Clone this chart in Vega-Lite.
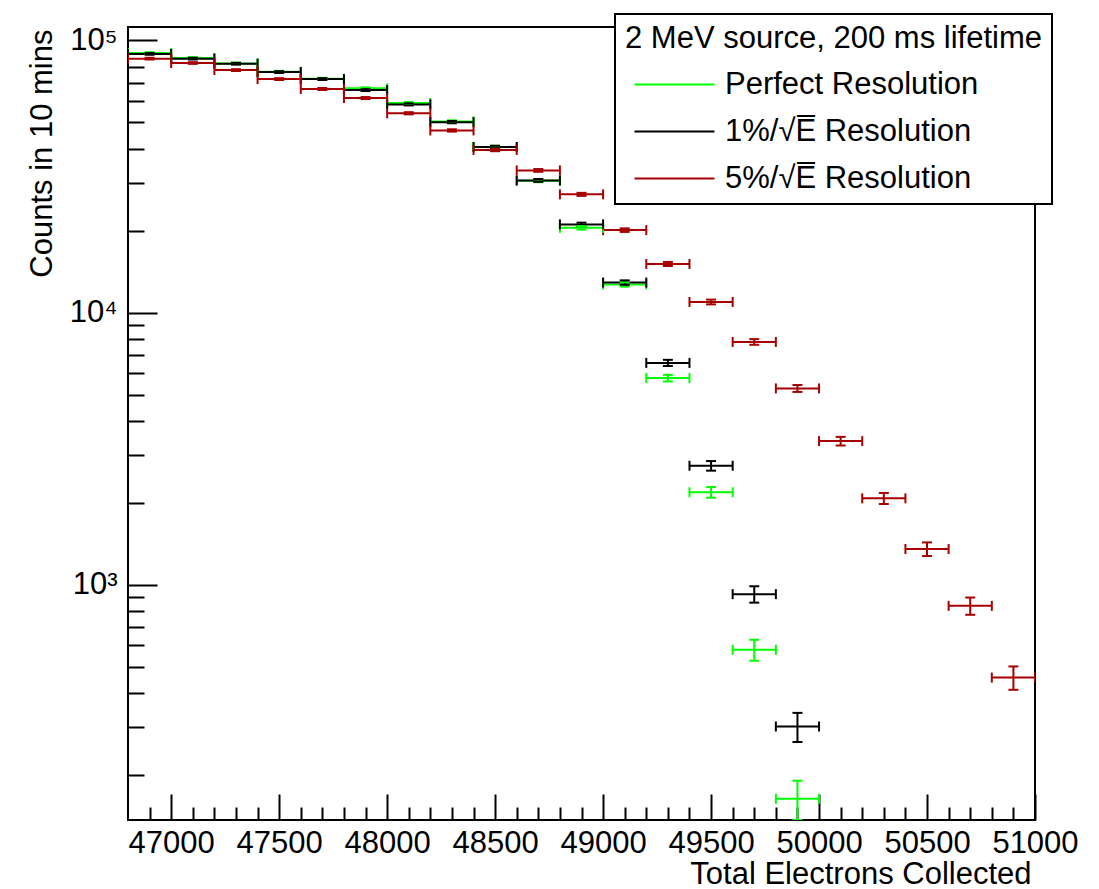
{
  "$schema": "https://vega.github.io/schema/vega-lite/v6.json",
  "width": 907,
  "height": 793,
  "autosize": {"type": "none"},
  "padding": {"left": 128, "top": 27, "right": 64, "bottom": 69},
  "config": {
    "font": "Liberation Sans",
    "view": {"stroke": "#000", "strokeWidth": 2},
    "axis": {"domain": false, "grid": false, "tickColor": "#000", "tickWidth": 2, "labelColor": "#000", "labelFontSize": 31, "titleFontSize": 31, "titleFontWeight": "normal", "titleColor": "#000"}
  },
  "data": {"values": [
    {"s":"P","x0":46800,"x1":47000,"x":46900,"n":89800,"lo":89165,"hi":90435},
    {"s":"P","x0":47000,"x1":47200,"x":47100,"n":86200,"lo":85578,"hi":86822},
    {"s":"P","x0":47200,"x1":47400,"x":47300,"n":82300,"lo":81692,"hi":82908},
    {"s":"P","x0":47400,"x1":47600,"x":47500,"n":76700,"lo":76113,"hi":77287},
    {"s":"P","x0":47600,"x1":47800,"x":47700,"n":72300,"lo":71730,"hi":72870},
    {"s":"P","x0":47800,"x1":48000,"x":47900,"n":66700,"lo":66152,"hi":67248},
    {"s":"P","x0":48000,"x1":48200,"x":48100,"n":58900,"lo":58385,"hi":59415},
    {"s":"P","x0":48200,"x1":48400,"x":48300,"n":50400,"lo":49924,"hi":50876},
    {"s":"P","x0":48400,"x1":48600,"x":48500,"n":40600,"lo":40173,"hi":41027},
    {"s":"P","x0":48600,"x1":48800,"x":48700,"n":30500,"lo":30130,"hi":30870},
    {"s":"P","x0":48800,"x1":49000,"x":48900,"n":20500,"lo":20196,"hi":20804},
    {"s":"P","x0":49000,"x1":49200,"x":49100,"n":12700,"lo":12461,"hi":12939},
    {"s":"P","x0":49200,"x1":49400,"x":49300,"n":5750,"lo":5589,"hi":5911},
    {"s":"P","x0":49400,"x1":49600,"x":49500,"n":2190,"lo":2091,"hi":2289},
    {"s":"P","x0":49600,"x1":49800,"x":49700,"n":578,"lo":527,"hi":629},
    {"s":"P","x0":49800,"x1":50000,"x":49900,"n":164,"lo":137,"hi":191},
    {"s":"B","x0":46800,"x1":47000,"x":46900,"n":89200,"lo":88567,"hi":89833},
    {"s":"B","x0":47000,"x1":47200,"x":47100,"n":85700,"lo":85079,"hi":86321},
    {"s":"B","x0":47200,"x1":47400,"x":47300,"n":82100,"lo":81493,"hi":82707},
    {"s":"B","x0":47400,"x1":47600,"x":47500,"n":76500,"lo":75914,"hi":77086},
    {"s":"B","x0":47600,"x1":47800,"x":47700,"n":72100,"lo":71531,"hi":72669},
    {"s":"B","x0":47800,"x1":48000,"x":47900,"n":65700,"lo":65157,"hi":66243},
    {"s":"B","x0":48000,"x1":48200,"x":48100,"n":58200,"lo":57689,"hi":58711},
    {"s":"B","x0":48200,"x1":48400,"x":48300,"n":50100,"lo":49625,"hi":50575},
    {"s":"B","x0":48400,"x1":48600,"x":48500,"n":40600,"lo":40173,"hi":41027},
    {"s":"B","x0":48600,"x1":48800,"x":48700,"n":30600,"lo":30229,"hi":30971},
    {"s":"B","x0":48800,"x1":49000,"x":48900,"n":21100,"lo":20792,"hi":21408},
    {"s":"B","x0":49000,"x1":49200,"x":49100,"n":12900,"lo":12659,"hi":13141},
    {"s":"B","x0":49200,"x1":49400,"x":49300,"n":6540,"lo":6369,"hi":6711},
    {"s":"B","x0":49400,"x1":49600,"x":49500,"n":2740,"lo":2629,"hi":2851},
    {"s":"B","x0":49600,"x1":49800,"x":49700,"n":925,"lo":861,"hi":989},
    {"s":"B","x0":49800,"x1":50000,"x":49900,"n":302,"lo":265,"hi":339},
    {"s":"R","x0":46800,"x1":47000,"x":46900,"n":85700,"lo":85079,"hi":86321},
    {"s":"R","x0":47000,"x1":47200,"x":47100,"n":82600,"lo":81991,"hi":83209},
    {"s":"R","x0":47200,"x1":47400,"x":47300,"n":77800,"lo":77209,"hi":78391},
    {"s":"R","x0":47400,"x1":47600,"x":47500,"n":72100,"lo":71531,"hi":72669},
    {"s":"R","x0":47600,"x1":47800,"x":47700,"n":66300,"lo":65754,"hi":66846},
    {"s":"R","x0":47800,"x1":48000,"x":47900,"n":61400,"lo":60875,"hi":61925},
    {"s":"R","x0":48000,"x1":48200,"x":48100,"n":54000,"lo":53507,"hi":54493},
    {"s":"R","x0":48200,"x1":48400,"x":48300,"n":46700,"lo":46242,"hi":47158},
    {"s":"R","x0":48400,"x1":48600,"x":48500,"n":39600,"lo":39178,"hi":40022},
    {"s":"R","x0":48600,"x1":48800,"x":48700,"n":33300,"lo":32913,"hi":33687},
    {"s":"R","x0":48800,"x1":49000,"x":48900,"n":27200,"lo":26850,"hi":27550},
    {"s":"R","x0":49000,"x1":49200,"x":49100,"n":20100,"lo":19799,"hi":20401},
    {"s":"R","x0":49200,"x1":49400,"x":49300,"n":15100,"lo":14839,"hi":15361},
    {"s":"R","x0":49400,"x1":49600,"x":49500,"n":10950,"lo":10728,"hi":11172},
    {"s":"R","x0":49600,"x1":49800,"x":49700,"n":7810,"lo":7623,"hi":7997},
    {"s":"R","x0":49800,"x1":50000,"x":49900,"n":5270,"lo":5116,"hi":5424},
    {"s":"R","x0":50000,"x1":50200,"x":50100,"n":3375,"lo":3252,"hi":3498},
    {"s":"R","x0":50200,"x1":50400,"x":50300,"n":2080,"lo":1983,"hi":2177},
    {"s":"R","x0":50400,"x1":50600,"x":50500,"n":1355,"lo":1277,"hi":1433},
    {"s":"R","x0":50600,"x1":50800,"x":50700,"n":838,"lo":777,"hi":899},
    {"s":"R","x0":50800,"x1":51000,"x":50900,"n":457,"lo":412,"hi":502}
  ]},
  "layer": [
    {
      "mark": {"type": "rule", "strokeWidth": 2, "clip": true},
      "encoding": {
        "x": {"field": "x0", "type": "quantitative",
          "scale": {"domain": [46800, 51000], "nice": false, "zero": false},
          "axis": {"values": [47000, 47500, 48000, 48500, 49000, 49500, 50000, 50500, 51000], "format": "d", "tickSize": -26, "labelPadding": 34, "labelFlush": false, "labelOverlap": false, "labelBound": false,
            "title": "Total Electrons Collected", "titleX": 903, "titleY": 54, "titleAlign": "right", "titleBaseline": "middle", "titleAngle": 0}},
        "x2": {"field": "x1"},
        "y": {"field": "n", "type": "quantitative",
          "scale": {"type": "log", "domain": [137, 112000], "nice": false},
          "axis": {"values": [1000, 10000, 100000], "labelExpr": "datum.value >= 100000 ? '10⁵' : datum.value >= 10000 ? '10⁴' : '10³'", "tickSize": -29, "labelPadding": 40, "labelOverlap": false,
            "title": "Counts in 10 mins", "titleX": -86, "titleY": 2, "titleAngle": -90, "titleAlign": "right", "titleBaseline": "middle"}},
        "color": {"field": "s", "type": "nominal",
          "scale": {"domain": ["P", "B", "R"], "range": ["#00ff00", "#000000", "#a80000"]},
          "legend": {"orient": "none", "legendX": 487, "legendY": -13, "direction": "vertical",
            "title": "2 MeV source, 200 ms lifetime", "titleFontSize": 31, "titleFontWeight": "normal", "titleColor": "#000", "titlePadding": 14, "titleLimit": 0,
            "labelFontSize": 31, "labelColor": "#000", "labelOffset": 69, "labelLimit": 0,
            "labelExpr": "datum.label == 'P' ? 'Perfect Resolution' : datum.label == 'B' ? '1%/√E̅ Resolution' : '5%/√E̅ Resolution'",
            "symbolType": "M-0.6,0H7.4", "symbolSize": 400, "symbolStrokeWidth": 2,
            "rowPadding": 15, "padding": 10, "fillColor": "#ffffff", "strokeColor": "#000000",
            "encode": {"legend": {"update": {"strokeWidth": {"value": 2}}}}}}
      }
    },
    {
      "mark": {"type": "rule", "strokeWidth": 2, "clip": true},
      "encoding": {
        "x": {"field": "x", "type": "quantitative",
          "axis": {"orient": "bottom", "values": [46900, 47100, 47200, 47300, 47400, 47600, 47700, 47800, 47900, 48100, 48200, 48300, 48400, 48600, 48700, 48800, 48900, 49100, 49200, 49300, 49400, 49600, 49700, 49800, 49900, 50100, 50200, 50300, 50400, 50600, 50700, 50800, 50900], "labels": false, "tickSize": -13, "title": null}},
        "y": {"field": "lo", "type": "quantitative",
          "axis": {"orient": "left", "values": [200, 300, 400, 500, 600, 700, 800, 900, 2000, 3000, 4000, 5000, 6000, 7000, 8000, 9000, 20000, 30000, 40000, 50000, 60000, 70000, 80000, 90000], "labels": false, "tickSize": -16, "title": null}},
        "y2": {"field": "hi"},
        "color": {"field": "s", "type": "nominal"}
      }
    },
    {
      "mark": {"type": "tick", "orient": "vertical", "size": 10, "thickness": 2, "opacity": 1, "clip": true},
      "encoding": {
        "x": {"field": "x0", "type": "quantitative", "axis": null},
        "y": {"field": "n", "type": "quantitative", "axis": null},
        "color": {"field": "s", "type": "nominal"}
      }
    },
    {
      "mark": {"type": "tick", "orient": "vertical", "size": 10, "thickness": 2, "opacity": 1, "clip": true},
      "encoding": {
        "x": {"field": "x1", "type": "quantitative", "axis": null},
        "y": {"field": "n", "type": "quantitative", "axis": null},
        "color": {"field": "s", "type": "nominal"}
      }
    },
    {
      "mark": {"type": "tick", "orient": "horizontal", "size": 10, "thickness": 2, "opacity": 1, "clip": true},
      "encoding": {
        "x": {"field": "x", "type": "quantitative", "axis": null},
        "y": {"field": "lo", "type": "quantitative", "axis": null},
        "color": {"field": "s", "type": "nominal"}
      }
    },
    {
      "mark": {"type": "tick", "orient": "horizontal", "size": 10, "thickness": 2, "opacity": 1, "clip": true},
      "encoding": {
        "x": {"field": "x", "type": "quantitative", "axis": null},
        "y": {"field": "hi", "type": "quantitative", "axis": null},
        "color": {"field": "s", "type": "nominal"}
      }
    }
  ],
  "resolve": {"axis": {"x": "independent", "y": "independent"}}
}
